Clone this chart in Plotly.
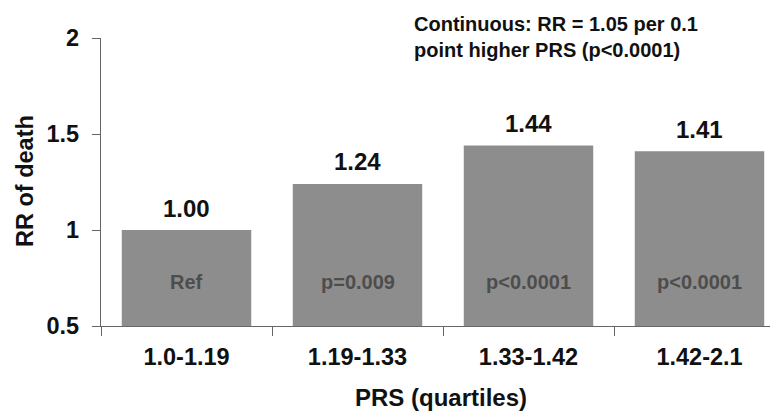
import plotly.graph_objects as go

categories = ["1.0-1.19", "1.19-1.33", "1.33-1.42", "1.42-2.1"]
rr_values = [1.00, 1.24, 1.44, 1.41]
value_labels = ["1.00", "1.24", "1.44", "1.41"]
p_labels = ["Ref", "p=0.009", "p<0.0001", "p<0.0001"]
y_tick_vals = [0.5, 1, 1.5, 2]
y_tick_text = ["0.5", "1", "1.5", "2"]

FONT = "Liberation Sans, Arial, sans-serif"
OFF = 8  # page body margin
W, H = 778, 414
L, R, T = 101 - OFF, 0, 38 - OFF
B = H - (326 - OFF)
PW, PH = W - L - R, H - T - B
CAT_PX = 171.0
x_hi = -0.5 + PW / CAT_PX


def px(xp):
    return (xp - OFF - L) / PW


def py(yp):
    return (H - B - (yp - OFF)) / PH


fig = go.Figure()
fig.add_trace(go.Bar(
    x=categories,
    y=[v - 0.5 for v in rr_values],
    base=0.5,
    marker=dict(color="#8d8d8d", line=dict(width=0)),
    width=0.757,
    hoverinfo="skip",
))

annotations = []
for c, v, lab in zip(categories, rr_values, value_labels):
    annotations.append(dict(x=c, y=v, text="<b>" + lab + "</b>", showarrow=False,
                            yanchor="middle", yshift=22,
                            font=dict(family=FONT, size=24, color="#111")))
for c, lab in zip(categories, p_labels):
    annotations.append(dict(x=c, y=0.73, text="<b>" + lab + "</b>", showarrow=False,
                            yanchor="middle",
                            font=dict(family=FONT, size=20, color="#4d4d4d")))
annotations.append(dict(xref="paper", yref="paper", x=px(412), y=py(36.5),
                        xanchor="left", yanchor="middle", align="left", showarrow=False,
                        text="<b>Continuous: RR = 1.05 per 0.1<br>point higher PRS (p&lt;0.0001)</b>",
                        font=dict(family=FONT, size=20, color="#111")))
annotations.append(dict(xref="paper", yref="paper", x=px(441), y=py(397),
                        xanchor="center", yanchor="middle", showarrow=False,
                        text="<b>PRS (quartiles)</b>",
                        font=dict(family=FONT, size=24, color="#111")))
annotations.append(dict(xref="paper", yref="paper", x=px(25), y=py(181),
                        xanchor="center", yanchor="middle", showarrow=False, textangle=-90,
                        text="<b>RR of death</b>",
                        font=dict(family=FONT, size=23.5, color="#111")))

fig.update_layout(
    width=W, height=H,
    margin=dict(l=L, r=R, t=T, b=B, autoexpand=False),
    paper_bgcolor="white", plot_bgcolor="white",
    showlegend=False,
    annotations=annotations,
    font=dict(family=FONT, color="#111"),
    xaxis=dict(
        type="category", range=[-0.5, x_hi], automargin=False,
        showline=True, linecolor="#666", linewidth=1.2,
        ticks="outside", tickson="boundaries", ticklen=9, tickcolor="#666", tickwidth=1.2,
        ticklabelstandoff=10,
        tickfont=dict(family=FONT, size=23.5, color="#111", weight="bold"),
        showgrid=False,
    ),
    yaxis=dict(
        range=[0.5, 2], tickvals=y_tick_vals, ticktext=y_tick_text, automargin=False,
        showline=True, linecolor="#666", linewidth=1.2,
        ticks="outside", ticklen=8, tickcolor="#666", tickwidth=1.2,
        ticklabelstandoff=8,
        tickfont=dict(family=FONT, size=23.5, color="#111", weight="bold"),
        showgrid=False, zeroline=False,
    ),
)

fig.write_html("out.html")
